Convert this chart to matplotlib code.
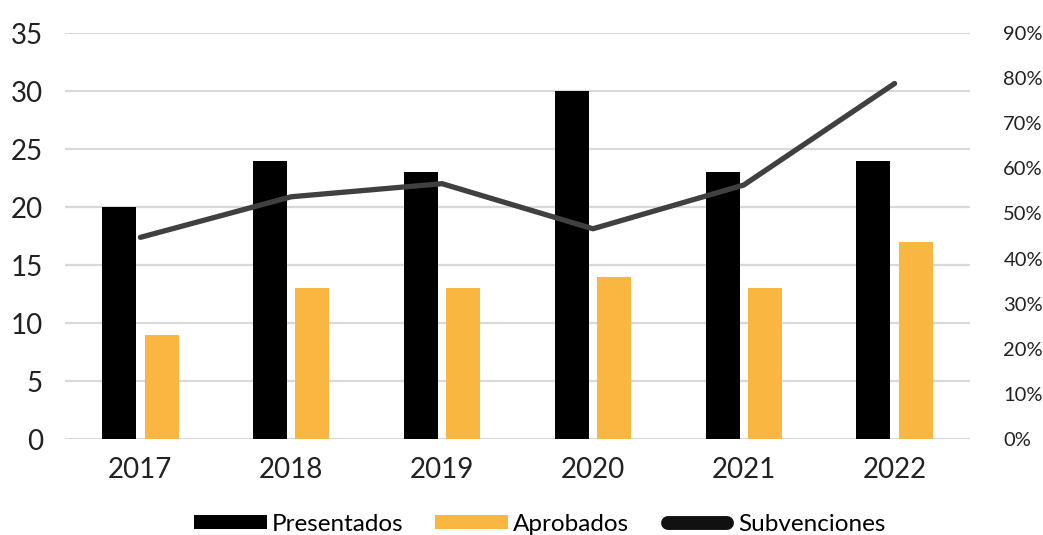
import matplotlib.pyplot as plt
from matplotlib.lines import Line2D
from matplotlib.legend_handler import HandlerLine2D
import numpy as np

years = ["2017", "2018", "2019", "2020", "2021", "2022"]
presentados = [20, 24, 23, 30, 23, 24]
aprobados = [9, 13, 13, 14, 13, 17]
subvenciones = [44.7, 53.7, 56.6, 46.6, 56.3, 78.8]  # %

plt.rcParams['font.family'] = ['Lato', 'DejaVu Sans']


class RoundHandle(HandlerLine2D):
    # keep round caps inside the handle box
    def create_artists(self, legend, orig_handle, xdescent, ydescent,
                       width, height, fontsize, trans):
        inset = 5
        line = Line2D([xdescent + inset, width - inset], [height / 2, height / 2],
                      color=orig_handle.get_color(), lw=orig_handle.get_linewidth(),
                      solid_capstyle='round', transform=trans)
        return [line]


fig = plt.figure(figsize=(10.43, 5.35), dpi=100)
ax = fig.add_axes([65 / 1043, (535 - 439) / 535, 905 / 1043, 406 / 535])
ax2 = ax.twinx()

x = np.arange(len(years))
w = 0.225
ax.bar(x - 0.14, presentados, w, color='#000000', label='Presentados', zorder=3)
ax.bar(x + 0.14, aprobados, w, color='#F9B641', label='Aprobados', zorder=3)
ax2.plot(x, subvenciones, color='#404040', lw=3.8, solid_capstyle='round', zorder=4)

ax.set_xlim(-0.5, len(years) - 0.5)
ax.set_ylim(0, 35)
ax.set_yticks(range(0, 36, 5))
ax2.set_ylim(0, 90)
ax2.set_yticks(range(0, 91, 10))
ax2.set_yticklabels([f"{v}%" for v in range(0, 91, 10)])

ax.grid(axis='y', color='#D9D9D9', lw=1.6, zorder=0)
ax.set_axisbelow(True)
for a in (ax, ax2):
    for s in a.spines.values():
        s.set_visible(False)
    a.tick_params(length=0)

ax.set_xticks(x)
ax.set_xticklabels(years)
ax.tick_params(axis='x', labelsize=20, pad=13, colors='#222222')
ax.tick_params(axis='y', labelsize=20, pad=16, colors='#222222')
ax2.tick_params(axis='y', labelsize=14.5, pad=24, colors='#222222')

h1, l1 = ax.get_legend_handles_labels()
sub_handle = Line2D([], [], color='#111111', lw=10, solid_capstyle='round')
fig.legend(h1 + [sub_handle], l1 + ['Subvenciones'], loc='lower center',
           bbox_to_anchor=(0.518, -0.04), ncol=3, frameon=False, fontsize=17.5,
           handlelength=3.0, handleheight=0.55, handletextpad=0.2,
           columnspacing=1.3, handler_map={sub_handle: RoundHandle()})

fig.savefig("out.png", dpi=100, facecolor='white')
